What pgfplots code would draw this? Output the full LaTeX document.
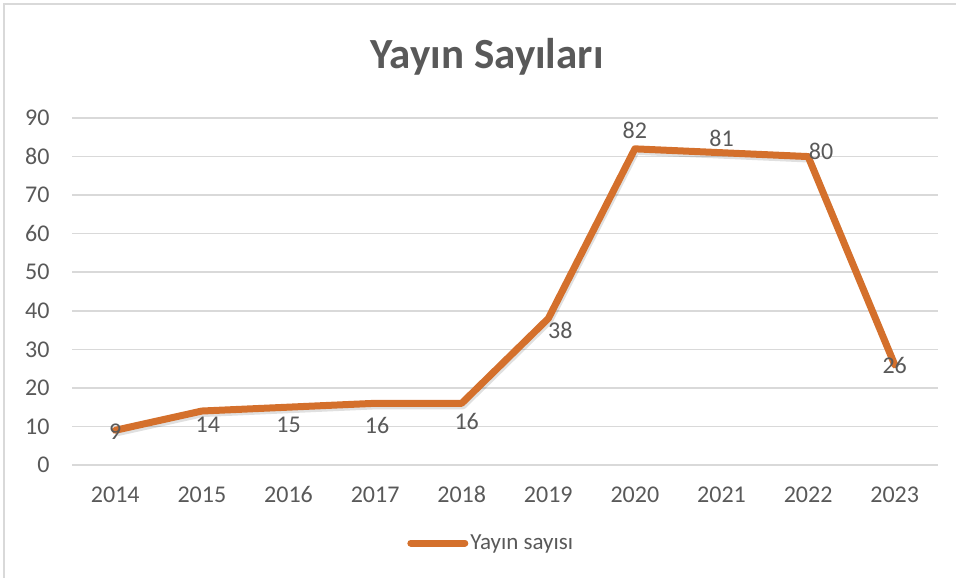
\documentclass[border=0pt]{standalone}
\usepackage{pgfplots}
\pgfplotsset{compat=1.18}
\usepackage{pgfplotstable}
\usepackage{fontspec}
\setmainfont{Carlito}
\definecolor{txt}{HTML}{595959}
\definecolor{grd}{HTML}{D9D9D9}
\definecolor{org}{HTML}{D4702C}
\pgfplotstableread{
x y dx dy
0 9 0 -1
1 14 6 -14
2 15 0 -18
3 16 2 -22
4 16 5 -18
5 38 12 -12
6 82 0 18
7 81 0 14
8 80 13 5
9 26 0 -1
}\datatab
\begin{document}
\begin{tikzpicture}[x=1pt,y=1pt]
\begin{axis}[
  at={(72pt,113pt)}, anchor=south west,
  width=866pt, height=347pt, scale only axis,
  xmin=-0.5, xmax=9.5, ymin=0, ymax=90,
  xtick={0,...,9},
  xticklabels={2014,2015,2016,2017,2018,2019,2020,2021,2022,2023},
  ytick={0,10,...,90},
  axis line style={draw=none},
  major tick length=0pt,
  ymajorgrids, grid style={grd,line width=1.5pt},
  tick label style={txt,font=\fontsize{24}{28}\selectfont},
  /pgf/number format/assume math mode=true,
  yticklabel style={xshift=-19pt},
  xticklabel style={yshift=-18pt},
  clip=false,
  legend style={at={(0.387,-0.225)},anchor=west,draw=none,fill=none,
    font=\fontsize{23}{27}\selectfont, text=txt, inner sep=0pt,
    /tikz/every even column/.append style={column sep=2pt}},
  legend image code/.code={\draw[#1,line cap=round] (0pt,0pt) -- (54pt,0pt);},
]
\addplot[black,opacity=0.12,line width=6pt,line join=round,shift={(1.5pt,-3pt)},forget plot] table[x=x,y=y]{\datatab};
\addplot[org,line width=7pt,line join=round,line cap=round,
  nodes near coords,
  point meta=explicit symbolic,
  visualization depends on={\thisrow{dx}\as\ddx},
  visualization depends on={\thisrow{dy}\as\ddy},
  every node near coord/.style={anchor=center,xshift=\ddx pt,yshift=\ddy pt,text=txt,font=\fontsize{24}{28}\selectfont},
] table[x=x,y=y,meta=y]{\datatab};
\addlegendentry{Yayın sayısı}
\end{axis}
\draw[grd,line width=1.2pt] (4,0) -- (4,574) -- (956,574);
\node[txt,font=\fontsize{43}{50}\selectfont\bfseries] at (487,521) {Yayın Sayıları};
\pgfresetboundingbox
\path[use as bounding box] (0,0) rectangle (956,578);
\end{tikzpicture}
\end{document}
